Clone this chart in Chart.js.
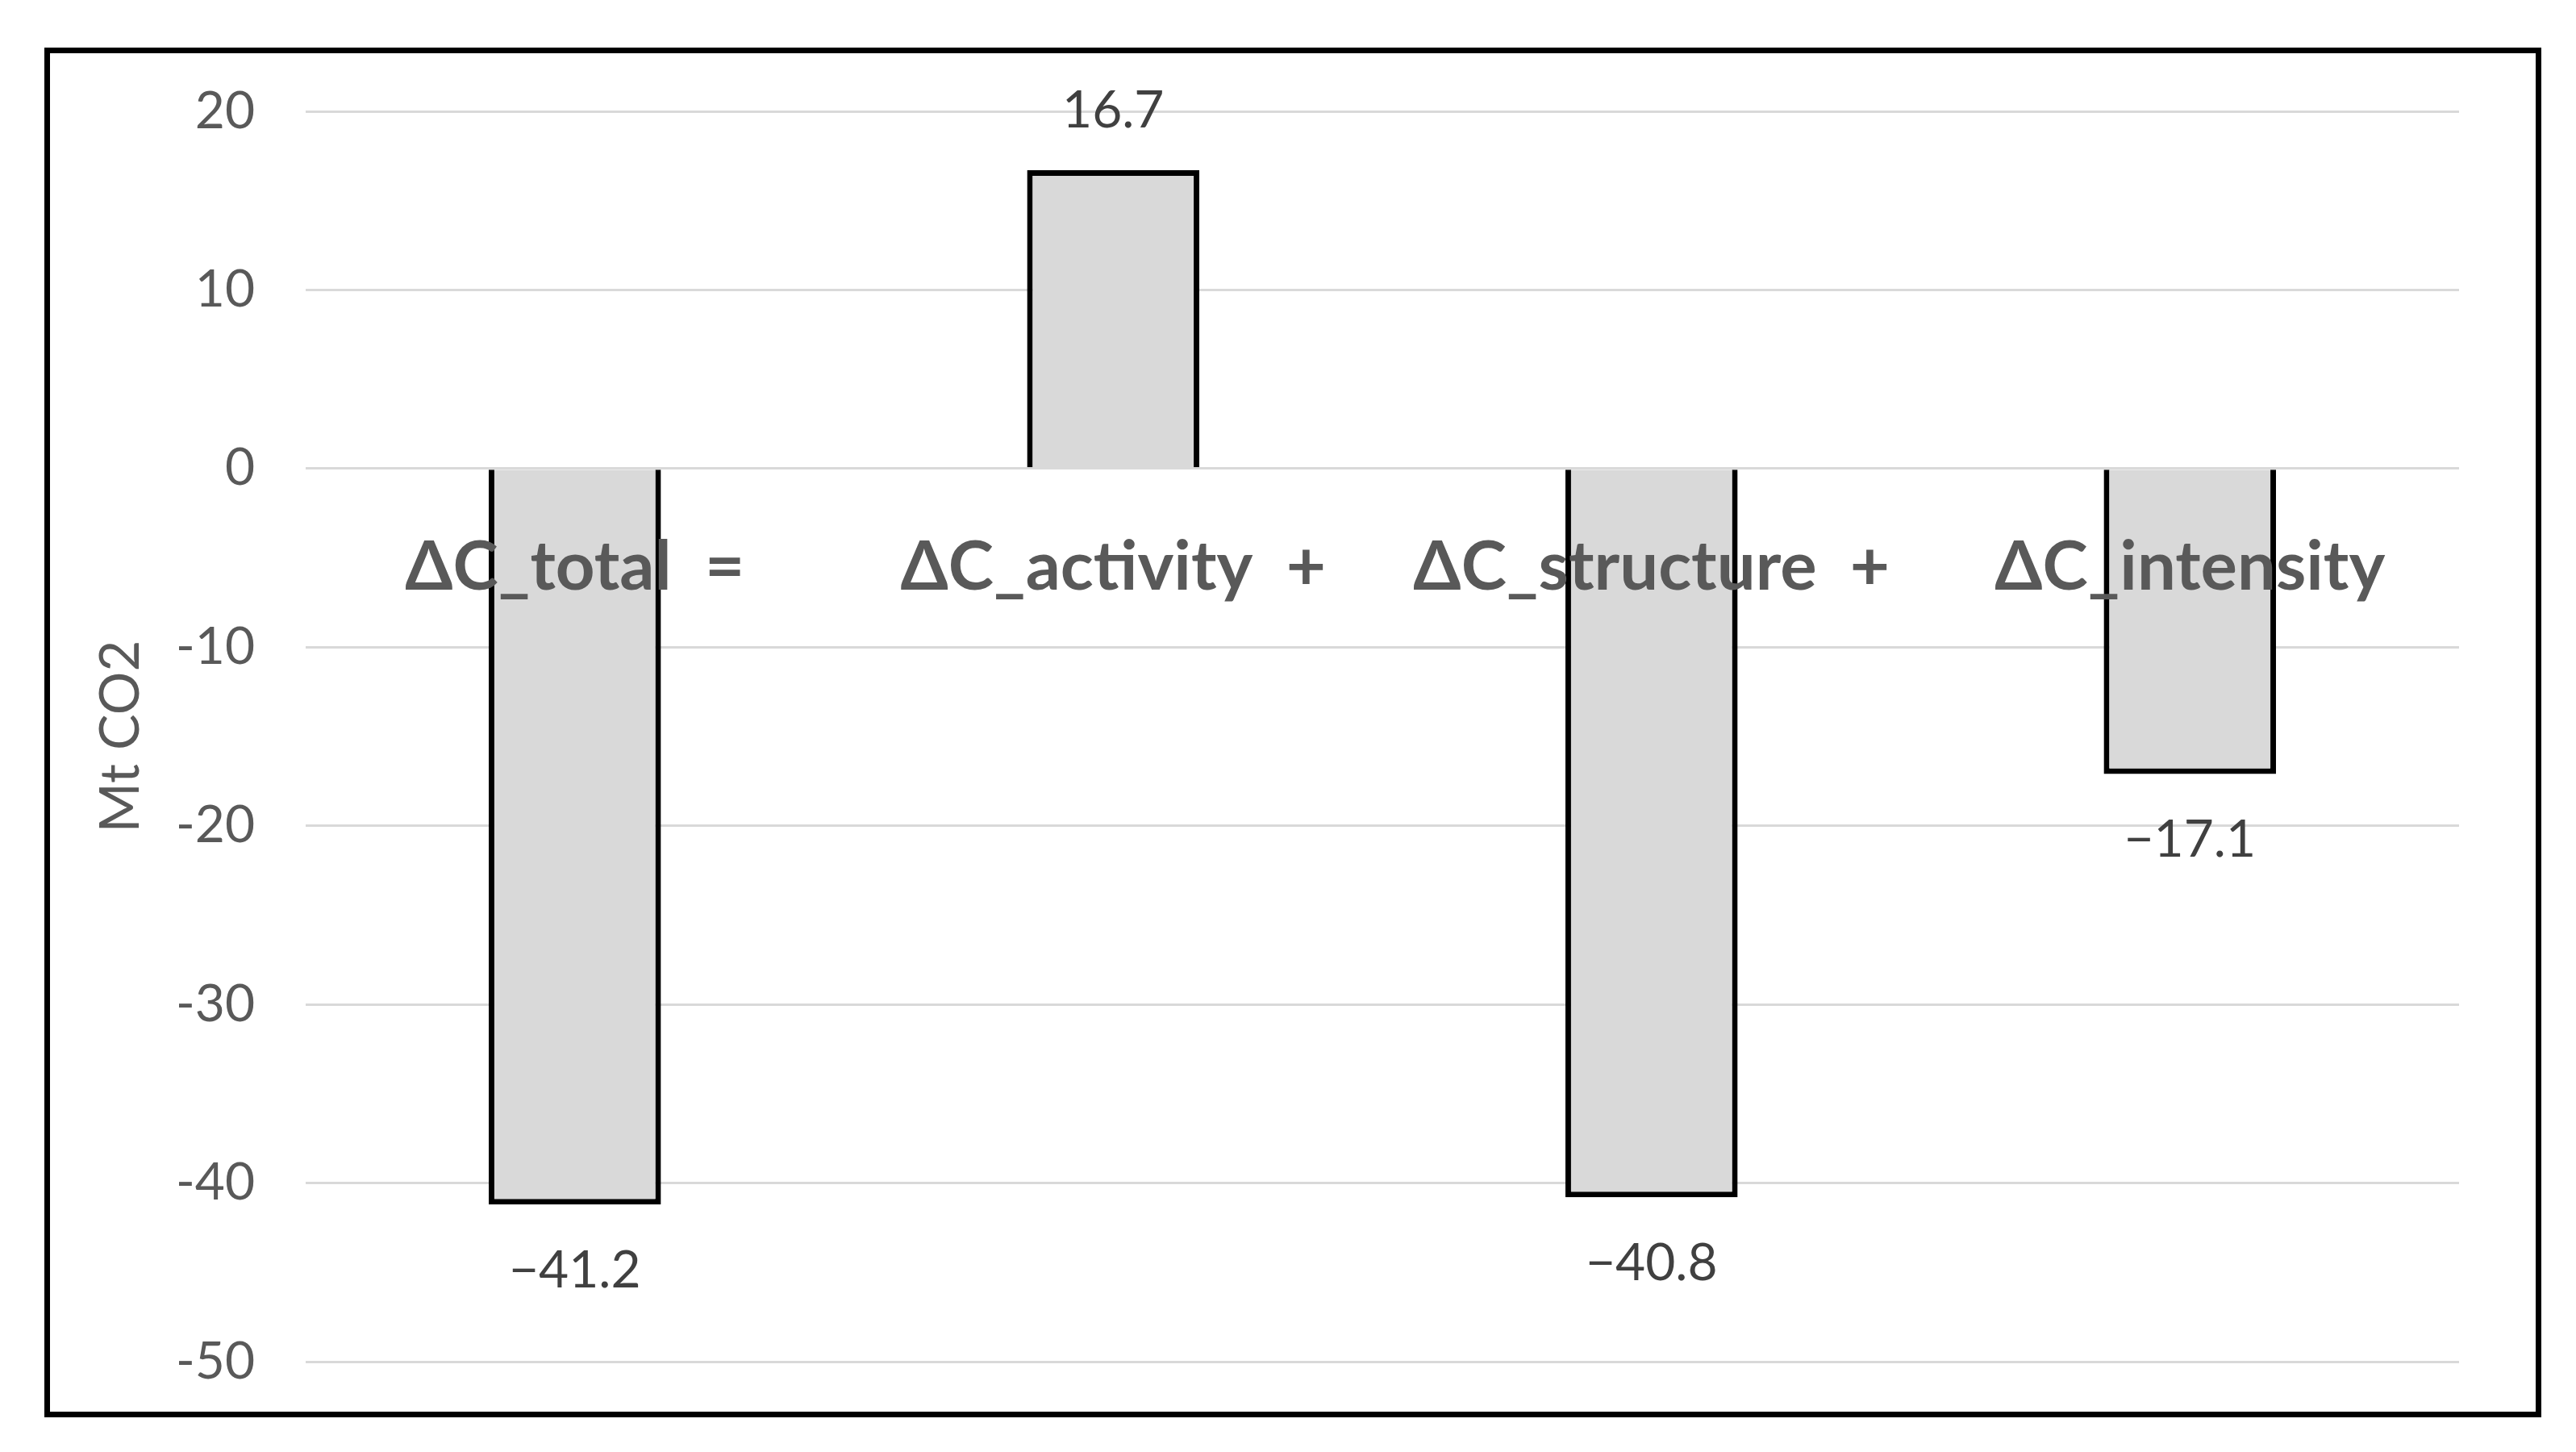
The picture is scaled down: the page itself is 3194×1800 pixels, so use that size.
<!DOCTYPE html>
<html>
<head>
<meta charset="utf-8">
<script src="https://cdn.jsdelivr.net/npm/chart.js@4.4.1/dist/chart.umd.min.js"></script>
<style>
    html, body { margin: 0; padding: 0; background: #ffffff; }
    body { width: 3194px; height: 1800px; position: relative; overflow: hidden; }
    #frame {
        position: absolute;
        left: 55px; top: 59px;
        width: 3082px; height: 1684px;
        border: 7px solid #000000;
    }
    #frame canvas { display: block; }
</style>
</head>
<body>
<div id="frame"><canvas id="decompChart" width="3082" height="1684"></canvas></div>
<script>
// --- data ---
const categories = ['ΔC_total  =', 'ΔC_activity  +', 'ΔC_structure  +', 'ΔC_intensity'];
const deltaValues = [-41.2, 16.7, -40.8, -17.1];
const yTicks = [20, 10, 0, -10, -20, -30, -40, -50];
const yTitle = 'Mt CO2';

const FONT = "Lato, 'Open Sans', sans-serif";
const GREY_TEXT = '#595959';

// value labels above / below each bar end
const valueLabels = {
    id: 'valueLabels',
    afterDatasetsDraw(chart) {
        const ctx = chart.ctx;
        const meta = chart.getDatasetMeta(0);
        ctx.save();
        ctx.font = `64px ${FONT}`;
        ctx.fillStyle = '#404040';
        ctx.textAlign = 'center';
        ctx.textBaseline = 'middle';
        meta.data.forEach((bar, i) => {
            const v = deltaValues[i];
            const txt = (v < 0 ? '\u2212' : '') + Math.abs(v).toFixed(1);
            const y = v < 0 ? bar.y + 82 : bar.y - 74;
            ctx.fillText(txt, bar.x, y);
        });
        ctx.restore();
    }
};

const ctx = document.getElementById('decompChart').getContext('2d');
new Chart(ctx, {
    type: 'bar',
    data: {
        labels: categories,
        datasets: [{
            data: deltaValues,
            backgroundColor: '#d9d9d9',
            borderColor: '#000000',
            borderWidth: 7,
            borderSkipped: 'start',
            barPercentage: 0.32,
            categoryPercentage: 1.0
        }]
    },
    options: {
        responsive: false,
        animation: false,
        layout: {
            padding: { left: 44, right: 95, top: 72, bottom: 62 }
        },
        plugins: {
            legend: { display: false },
            tooltip: { enabled: false }
        },
        scales: {
            x: {
                position: { y: 0 },
                afterFit(scale) { scale.paddingLeft = 0; scale.paddingRight = 0; },
                grid: { display: false, drawTicks: false },
                border: { display: false },
                ticks: {
                    z: 1, // labels sit on top of the bars, like the original
                    color: GREY_TEXT,
                    padding: 72,
                    maxRotation: 0,
                    autoSkip: false,
                    font: { family: FONT, size: 85, weight: 'bold' }
                }
            },
            y: {
                min: Math.min(...yTicks),
                max: Math.max(...yTicks),
                afterFit(scale) {
                    scale.width = 273;
                    scale.paddingTop = 0;
                    scale.paddingBottom = 0;
                },
                afterBuildTicks(scale) {
                    scale.ticks = yTicks.map(v => ({ value: v }));
                },
                grid: {
                    color: '#d9d9d9',
                    lineWidth: 3,
                    drawTicks: false
                },
                border: { display: false },
                ticks: {
                    color: GREY_TEXT,
                    padding: 63,
                    font: { family: FONT, size: 64 }
                },
                title: {
                    display: true,
                    text: yTitle,
                    color: GREY_TEXT,
                    padding: { top: 4, bottom: 0 },
                    font: { family: FONT, size: 67 }
                }
            }
        }
    },
    plugins: [valueLabels]
});
</script>
</body>
</html>
